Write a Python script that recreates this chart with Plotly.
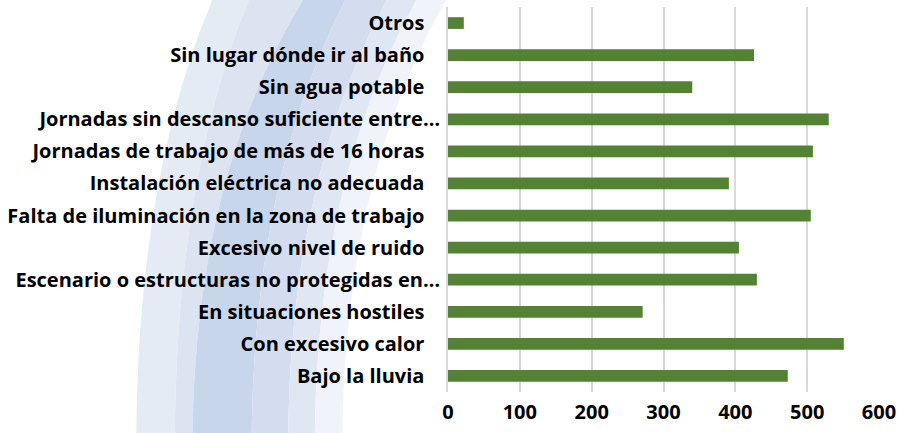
import plotly.graph_objects as go

# Working-condition categories (top to bottom) and their counts
categories = [
    "Otros",
    "Sin lugar dónde ir al baño",
    "Sin agua potable",
    "Jornadas sin descanso suficiente entre…",
    "Jornadas de trabajo de más de 16 horas",
    "Instalación eléctrica no adecuada",
    "Falta de iluminación en la zona de trabajo",
    "Excesivo nivel de ruido",
    "Escenario o estructuras no protegidas en…",
    "En situaciones hostiles",
    "Con excesivo calor",
    "Bajo la lluvia",
]
values = [22, 426, 340, 530, 508, 391, 505, 405, 430, 271, 551, 473]
x_ticks = [0, 100, 200, 300, 400, 500, 600]

W, H = 903, 433
ML, MR, MT, MB = 447, 19, 7, 41
PW, PH = W - ML - MR, H - MT - MB

# Truncated labels sit closer to the axis; pad the others
ticktext = [c if c.endswith("…") else c + "\u00a0" * 3 for c in categories]

fig = go.Figure(
    go.Bar(
        x=values,
        y=categories,
        orientation="h",
        marker=dict(color="#548235", line=dict(width=0)),
        width=0.365,
        hoverinfo="x+y",
    )
)

# Decorative curved blue bands behind the labels (pixel geometry -> paper coords)
def px(x):
    return (x - ML) / PW

def py(y):
    return (H - MB - y) / PH

bottom_x = [131, 170, 188, 248, 285, 312, 340]
top_x = [208, 245, 300, 343, 385, 415, 445]
band_colors = ["#e5ebf5", "#dce4f2", "#c8d6ec", "#d3ddef", "#e0e7f4", "#f0f4fa"]

shapes = []
for i, col in enumerate(band_colors):
    xb0, xt0 = bottom_x[i], top_x[i]
    xb1, xt1 = bottom_x[i + 1], top_x[i + 1]
    c0 = xb0 + 0.03 * (xt0 - xb0)
    c1 = xb1 + 0.03 * (xt1 - xb1)
    path = (
        f"M {px(xb0)},{py(H)} Q {px(c0)},{py(175)} {px(xt0)},{py(0)} "
        f"L {px(xt1)},{py(0)} Q {px(c1)},{py(175)} {px(xb1)},{py(H)} Z"
    )
    shapes.append(dict(type="path", path=path, xref="paper", yref="paper",
                       fillcolor=col, line=dict(width=0), layer="below"))

font_bold = dict(family="Open Sans", size=20, color="#000000", weight="bold")

fig.update_layout(
    width=W,
    height=H,
    margin=dict(l=ML, r=MR, t=MT, b=MB),
    paper_bgcolor="#ffffff",
    plot_bgcolor="rgba(0,0,0,0)",
    showlegend=False,
    shapes=shapes,
    bargap=0.635,
    xaxis=dict(
        range=[0, 600],
        tickvals=x_ticks,
        ticktext=[str(v) for v in x_ticks],
        showgrid=True,
        gridcolor="#d9d9d9",
        gridwidth=2,
        zeroline=False,
        showline=False,
        tickfont=font_bold,
        ticklabelstandoff=6,
        fixedrange=True,
    ),
    yaxis=dict(
        categoryorder="array",
        categoryarray=categories,
        tickvals=categories,
        ticktext=ticktext,
        autorange="reversed",
        showline=True,
        linecolor="#d9d9d9",
        linewidth=2,
        showgrid=False,
        tickfont=font_bold,
        ticklabelstandoff=2,
        fixedrange=True,
    ),
)

fig.write_html("out.html")
